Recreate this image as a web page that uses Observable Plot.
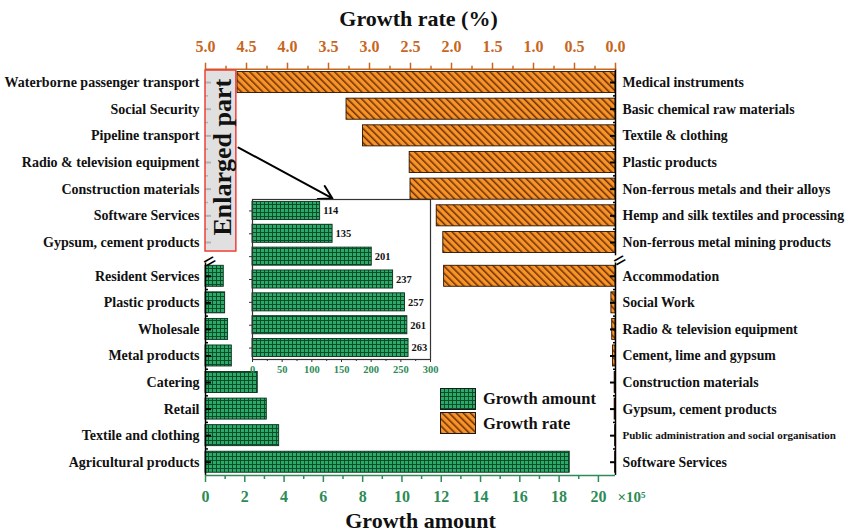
<!DOCTYPE html>
<html><head><meta charset="utf-8">
<script src="https://cdn.jsdelivr.net/npm/d3@7"></script>
<script src="https://cdn.jsdelivr.net/npm/@observablehq/plot@0.6"></script>
<style>
body{margin:0;background:#fff;}
#chart{position:relative;width:848px;height:532px;overflow:hidden;font-family:"Liberation Serif",serif;background:#fff;}
#chart svg.layer{position:absolute;left:0;top:0;background:transparent;overflow:visible;}
#chart svg.layer text{font-family:"Liberation Serif",serif !important;font-weight:bold;}
.legend{position:absolute;left:440px;top:387px;font-family:"Liberation Serif",serif;font-weight:bold;font-size:16.5px;color:#111;}
.legend .row{display:flex;align-items:center;height:24.5px;}
.legend .row svg{margin-right:7px;display:block;}
</style></head>
<body>
<svg width="0" height="0" style="position:absolute">
 <defs>
  <pattern id="hatchOrange" patternUnits="userSpaceOnUse" width="5" height="5" patternTransform="rotate(-45)">
   <rect width="5" height="5" fill="#f8932a"/>
   <rect width="1.5" height="5" fill="#6b3000"/>
  </pattern>
  <pattern id="gridGreen" patternUnits="userSpaceOnUse" width="4" height="4">
   <rect width="4" height="4" fill="#2cab68"/>
   <rect width="1" height="4" fill="#0b4d2a"/>
   <rect width="4" height="1" fill="#0b4d2a"/>
  </pattern>
 </defs>
</svg>
<div id="chart">
 <div class="legend">
  <div class="row"><svg width="36" height="23"><rect x="0.5" y="0.5" width="35" height="21" fill="url(#gridGreen)" stroke="#1a1a1a"/></svg><span>Growth amount</span></div>
  <div class="row"><svg width="36" height="23"><rect x="0.5" y="0.5" width="35" height="21" fill="url(#hatchOrange)" stroke="#1a1a1a"/></svg><span>Growth rate</span></div>
 </div>
</div>
<script>
// ---------------- data ----------------
const upperLeftLabels = ["Waterborne passenger transport","Social Security","Pipeline transport","Radio & television equipment","Construction materials","Software Services","Gypsum, cement products"];
const insetAmount = [114,135,201,237,257,261,263];
const upperRightLabels = ["Medical instruments","Basic chemical raw materials","Textile & clothing","Plastic products","Non-ferrous metals and their alloys","Hemp and silk textiles and processing","Non-ferrous metal mining products"];
const upperRate = [4.61,3.28,3.08,2.51,2.50,2.18,2.10];
const lowerLeftLabels = ["Resident Services","Plastic products","Wholesale","Metal products","Catering","Retail","Textile and clothing","Agricultural products"];
const lowerAmount = [0.93,1.00,1.15,1.34,2.66,3.12,3.75,18.54];
const lowerRightLabels = ["Accommodation","Social Work","Radio & television equipment","Cement, lime and gypsum","Construction materials","Gypsum, cement products","Public administration and social organisation","Software Services"];
const lowerRate = [2.09,0.05,0.04,0.03,0.01,0.01,0.005,0.005];
const rateTicks = [0,0.5,1,1.5,2,2.5,3,3.5,4,4.5,5];
const rateMinorTicks = [0.25,0.75,1.25,1.75,2.25,2.75,3.25,3.75,4.25,4.75];
const amountTicks = [0,2,4,6,8,10,12,14,16,18,20];
const amountMinorTicks = [1,3,5,7,9,11,13,15,17,19];
const insetTicks = [0,50,100,150,200,250,300];
const insetMinorTicks = [25,75,125,175,225,275];
// annotations (in data units of the upper amount panel)
const enlargedBox = [{x1: 0, x2: 1.57, y1: -0.45, y2: 6.34}];
const enlargedText = [{x: 0.86, y: 2.8, text: "Enlarged part"}];
const arrowSpec = [{x1: 1.68, y1: 2.44, x2: 6.46, y2: 4.35}];

// ---------------- layout ----------------
const FONT = "Liberation Serif";
const ORANGE = "#c8661e", GREEN = "#2e8b57";
const W = 848, H = 532, ML = 205, MR = 233;
const UP = {marginTop: 68.7, marginBottom: 276.7};
const LO = {marginTop: 262.5, marginBottom: 57};
const BH = 0.395;
const chart = document.getElementById("chart");
const legend = chart.querySelector(".legend");

const rows = (vals, labels) => vals.map((v, i) => ({i, v, label: labels[i]}));
const up = d3.range(upperRate.length), lo = d3.range(lowerRate.length);

function layer(opts) {
  const svg = Plot.plot({width: W, height: H, marginLeft: ML, marginRight: MR,
    style: {fontFamily: FONT, fontWeight: "bold", background: "transparent", overflow: "visible"}, ...opts});
  svg.classList.add("layer");
  chart.insertBefore(svg, legend);
  return svg;
}
function yInwardTicks(anchor, n) {
  const s = anchor === "left" ? 1 : -1;
  return [
    Plot.axisY({anchor, ticks: d3.range(n), tickSize: 6, dx: 6 * s, tickFormat: () => "", stroke: "#000", strokeWidth: 2, label: null}),
    Plot.axisY({anchor, ticks: d3.range(n - 1).map(i => i + 0.5), tickSize: 3, dx: 3 * s, tickFormat: () => "", stroke: "#000", strokeWidth: 1.5, label: null})
  ];
}
function yLabels(anchor, ticks, labels, fontSize) {
  return Plot.axisY({anchor, ticks, tickSize: 0, tickPadding: anchor === "left" ? 6 : 7, tickFormat: i => labels[i],
    fontSize, fontWeight: "bold", fontFamily: FONT, fill: "#111", label: null});
}
const breakMark = dy => Plot.text(["="], {x: 0, text: d => d, frameAnchor: "top", dy, rotate: -30, fontSize: 22, fontWeight: "bold", fill: "#000"});
const rateBars = data => Plot.rect(data, {x1: () => 0, x2: "v", y1: d => d.i - BH, y2: d => d.i + BH,
  fill: "url(#hatchOrange)", stroke: "#2a1200", strokeWidth: 0.9});
const amountBars = data => Plot.rect(data, {x1: () => 0, x2: "v", y1: d => d.i - BH, y2: d => d.i + BH,
  fill: "url(#gridGreen)", stroke: "#0a2e1a", strokeWidth: 0.9});

// ---- upper panel, growth rate (top axis) ----
layer({...UP,
  x: {domain: [5, 0], axis: null}, y: {domain: [6.5, -0.5], axis: null},
  marks: [
    rateBars(rows(upperRate, upperRightLabels)),
    Plot.ruleX([0], {stroke: "#000", strokeWidth: 1.5}),
    Plot.ruleY([-0.5], {stroke: ORANGE, strokeWidth: 1.5}),
    Plot.axisX({anchor: "top", ticks: rateTicks, tickSize: 7, tickPadding: 10, tickFormat: d3.format(".1f"),
      stroke: ORANGE, fill: ORANGE, strokeWidth: 1.5, fontSize: 16, fontWeight: "bold", fontFamily: FONT, label: null}),
    Plot.axisX({anchor: "top", ticks: rateMinorTicks, tickSize: 4, tickFormat: () => "", stroke: ORANGE, strokeWidth: 1.5, label: null}),
    ...yInwardTicks("right", 7),
    yLabels("right", up, upperRightLabels, 13.8),
    Plot.text(["Growth rate (%)"], {text: d => d, frameAnchor: "top", dy: -50, dx: 8, lineAnchor: "middle",
      fontSize: 22, fontWeight: "bold", fontFamily: FONT, fill: "#111"})
  ]
});

// ---- lower panel, growth rate ----
layer({...LO,
  x: {domain: [5, 0], axis: null}, y: {domain: [7.5, -0.5], axis: null},
  marks: [
    rateBars(rows(lowerRate, lowerRightLabels)),
    Plot.ruleX([0], {stroke: "#000", strokeWidth: 1.5}),
    ...yInwardTicks("right", 8),
    yLabels("right", [0,1,2,3,4,5,7], lowerRightLabels, 13.8),
    yLabels("right", [6], lowerRightLabels, 11),
    breakMark(-10)
  ]
});

// ---- upper panel, growth amount (enlarged part) ----
layer({...UP,
  x: {domain: [0, 20.87], axis: null}, y: {domain: [6.5, -0.5], axis: null},
  marks: [
    ...yInwardTicks("left", 7),
    Plot.rect(enlargedBox, {x1: "x1", x2: "x2", y1: "y1", y2: "y2", fill: "#d9d9d9", fillOpacity: 0.82, stroke: "#ee4036", strokeWidth: 1.5}),
    Plot.text(enlargedText, {x: "x", y: "y", text: "text", rotate: -90, fontSize: 26, fontWeight: "bold", fontFamily: FONT, fill: "#111"}),
    Plot.arrow(arrowSpec, {x1: "x1", y1: "y1", x2: "x2", y2: "y2", stroke: "#000", strokeWidth: 2, headLength: 11}),
    yLabels("left", up, upperLeftLabels, 14)
  ]
});

// ---- lower panel, growth amount (bottom axis) ----
layer({...LO,
  x: {domain: [0, 20.87], axis: null}, y: {domain: [7.5, -0.5], axis: null},
  marks: [
    amountBars(rows(lowerAmount, lowerLeftLabels)),
    Plot.ruleX([0], {stroke: "#000", strokeWidth: 1.5}),
    Plot.ruleY([7.5], {stroke: GREEN, strokeWidth: 1.5}),
    Plot.axisX({anchor: "bottom", ticks: amountTicks, tickSize: 7, tickPadding: 8, tickFormat: d => String(d),
      stroke: GREEN, fill: GREEN, strokeWidth: 1.5, fontSize: 16, fontWeight: "bold", fontFamily: FONT, label: null}),
    Plot.axisX({anchor: "bottom", ticks: amountMinorTicks, tickSize: 4, tickFormat: () => "", stroke: GREEN, strokeWidth: 1.5, label: null}),
    ...yInwardTicks("left", 8),
    yLabels("left", lo, lowerLeftLabels, 14),
    Plot.text(["×10⁵"], {text: d => d, frameAnchor: "bottom-right", dx: 2, dy: 22, textAnchor: "start", lineAnchor: "middle",
      fontSize: 15, fontWeight: "bold", fontFamily: FONT, fill: GREEN}),
    Plot.text(["Growth amount"], {text: d => d, frameAnchor: "bottom", dy: 45, dx: 10, lineAnchor: "middle",
      fontSize: 22, fontWeight: "bold", fontFamily: FONT, fill: "#111"}),
    breakMark(-9)
  ]
});

// ---- inset: enlarged growth amounts ----
layer({marginLeft: 252, marginRight: 418, marginTop: 199, marginBottom: 173,
  x: {domain: [0, 300], axis: null}, y: {domain: [6.5, -0.5], axis: null},
  marks: [
    Plot.frame({fill: "#fff", stroke: "none"}),
    amountBars(rows(insetAmount, upperLeftLabels)),
    Plot.text(rows(insetAmount, upperLeftLabels), {x: "v", y: "i", text: d => String(d.v), dx: 3, textAnchor: "start",
      fontSize: 10.5, fontWeight: "bold", fontFamily: FONT, fill: "#111"}),
    Plot.frame({stroke: "#333", strokeWidth: 1.2}),
    Plot.axisX({anchor: "bottom", ticks: insetTicks, tickSize: 3, tickPadding: 3, tickFormat: d => String(d),
      stroke: "#333", fill: GREEN, fontSize: 10.5, fontWeight: "bold", fontFamily: FONT, label: null}),
    Plot.axisX({anchor: "bottom", ticks: insetMinorTicks, tickSize: 2, tickFormat: () => "", stroke: "#333", label: null}),
    Plot.axisY({anchor: "left", ticks: up, tickSize: 3, tickFormat: () => "", stroke: "#333", label: null})
  ]
});
</script>
</body></html>
